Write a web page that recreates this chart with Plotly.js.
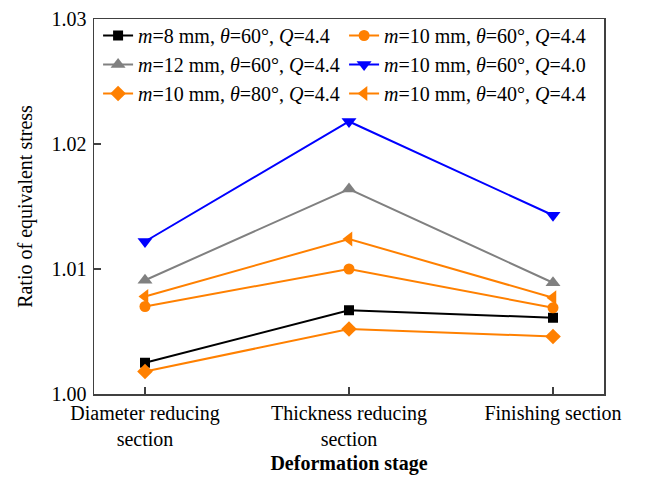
<!DOCTYPE html>
<html>
<head>
<meta charset="utf-8">
<script src="https://cdn.plot.ly/plotly-3.0.1.min.js"></script>
<style>html,body{margin:0;padding:0;background:#fff;}#chart{width:649px;height:481px;}</style>
</head>
<body>
<div id="chart"></div>
<script>
const categories = ["Diameter reducing<br>section", "Thickness reducing<br>section", "Finishing section"];
const yTickVals = [1.00, 1.01, 1.02, 1.03];
const yTickText = ["1.00", "1.01", "1.02", "1.03"];

const m8_t60_q44  = [1.0025, 1.0067, 1.0061];
const m10_t60_q44 = [1.0070, 1.0100, 1.0069];
const m12_t60_q44 = [1.0091, 1.0164, 1.0089];
const m10_t60_q40 = [1.0122, 1.0218, 1.0143];
const m10_t80_q44 = [1.0018, 1.0052, 1.0046];
const m10_t40_q44 = [1.0078, 1.0124, 1.0077];

const names = [
  "<i>m</i>=8 mm, <i>θ</i>=60°, <i>Q</i>=4.4",
  "<i>m</i>=10 mm, <i>θ</i>=60°, <i>Q</i>=4.4",
  "<i>m</i>=12 mm, <i>θ</i>=60°, <i>Q</i>=4.4",
  "<i>m</i>=10 mm, <i>θ</i>=60°, <i>Q</i>=4.0",
  "<i>m</i>=10 mm, <i>θ</i>=80°, <i>Q</i>=4.4",
  "<i>m</i>=10 mm, <i>θ</i>=40°, <i>Q</i>=4.4"
];
const series = [m8_t60_q44, m10_t60_q44, m12_t60_q44, m10_t60_q40, m10_t80_q44, m10_t40_q44];
const colors = ["#000000", "#FF8000", "#808080", "#0000FF", "#FF8000", "#FF8000"];
const symbols = ["square", "circle", "triangle-up", "triangle-down", "diamond", "triangle-left"];
const sizes = [10, 11, 13, 13, 12, 13];

const xIdx = [0, 1, 2];
const traces = series.map((vals, i) => ({
  x: xIdx, y: vals, name: names[i], type: "scatter", mode: "lines+markers",
  line: {color: colors[i], width: 2},
  marker: {color: colors[i], symbol: symbols[i], size: sizes[i]}
}));

const font = {family: "Liberation Serif, Times New Roman, serif", size: 20, color: "#000"};
const layout = {
  width: 649, height: 481,
  margin: {l: 94, r: 45, t: 19, b: 87, pad: 0},
  paper_bgcolor: "#fff", plot_bgcolor: "#fff",
  font: font,
  showlegend: true,
  legend: {orientation: "h", x: 0.008, xanchor: "left", y: 1.008, yanchor: "top",
           bgcolor: "rgba(0,0,0,0)", font: font, entrywidth: 201, traceorder: "normal"},
  xaxis: {
    range: [-0.25, 2.25], tickmode: "array", tickvals: xIdx, ticktext: categories,
    showgrid: false, zeroline: false, showline: true, mirror: true,
    linecolor: "#404040", linewidth: 1.5, ticks: "inside", ticklen: 7, tickwidth: 1.5, tickcolor: "#404040",
    tickfont: font, automargin: false,
    title: {text: "<b>Deformation stage</b>", font: font, standoff: 7}
  },
  yaxis: {
    range: [1.0, 1.03], tickmode: "array", tickvals: yTickVals, ticktext: yTickText,
    showgrid: false, zeroline: false, showline: true, mirror: true,
    linecolor: "#404040", linewidth: 1.5, ticks: "inside", ticklen: 7, tickwidth: 1.5, tickcolor: "#404040",
    tickfont: font, automargin: false, ticklabelstandoff: 2,
    title: {text: "Ratio of equivalent stress", font: font, standoff: 13}
  }
};
Plotly.newPlot("chart", traces, layout, {displayModeBar: false, staticPlot: true});
</script>
</body>
</html>
